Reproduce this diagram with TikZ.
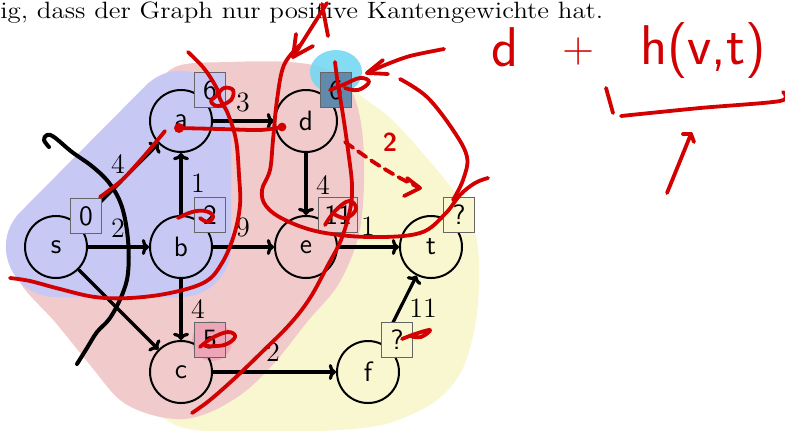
\documentclass[tikz,border=0pt]{standalone}
\usepackage{graphicx}
\usetikzlibrary{calc,arrows.meta}
\definecolor{bluereg}{RGB}{200,200,245}
\definecolor{pinkreg}{RGB}{241,202,204}
\definecolor{yelreg}{RGB}{249,247,208}
\definecolor{annred}{RGB}{210,0,0}
\definecolor{hlcyan}{RGB}{110,215,242}
\definecolor{hlpink}{RGB}{236,150,175}
\definecolor{slate}{RGB}{98,138,172}
\begin{document}
\begin{tikzpicture}[x=0.5pt,y=-0.5pt,
  vtx/.style={circle, draw, line width=1pt, minimum size=31pt, inner sep=0pt, font=\sffamily\fontsize{14}{16}\selectfont},
  dbox/.style={draw=black!60, line width=0.6pt, minimum width=15.5pt, minimum height=17.5pt, inner sep=1pt, font=\sffamily\fontsize{14}{16}\selectfont},
  edge/.style={-{To[length=3.6pt,width=8pt]}, line width=1.6pt},
  wlab/.style={font=\fontsize{14}{16}\selectfont, inner sep=0pt},
  ann/.style={draw=annred, line width=1.9pt, line cap=round, line join=round},
]
\path[use as bounding box, fill=white] (0,0) rectangle (785,430);
\clip (0,0) rectangle (785,430);

% vertex positions
\coordinate (S) at (56,247);
\coordinate (A) at (181,121);
\coordinate (B) at (181,247);
\coordinate (C) at (181,372);
\coordinate (D) at (306,121);
\coordinate (E) at (306,247);
\coordinate (T) at (431,247);
\coordinate (F) at (368,372);

% header
\node[anchor=base west, font=\fontsize{11.8}{13}\selectfont, inner sep=0pt] (hdr) at (0,18) {\scalebox{1.14}[1]{ig, dass der Graph nur positive Kantengewichte hat.}};

% regions
\fill[yelreg] plot[smooth cycle, tension=0.6] coordinates {(330,70) (360,95) (390,118) (420,150) (453,190) (472,222) (479,262) (476,320) (462,370) (437,400) (403,418) (370,427) (300,432) (220,432) (170,422) (140,380) (150,250) (200,120) (260,75)};
\fill[pinkreg] plot[smooth cycle, tension=0.55] coordinates {(20,250) (40,210) (90,160) (145,100) (175,67) (230,62) (290,62) (330,70) (352,92) (362,130) (364,185) (358,238) (338,285) (307,322) (277,360) (247,390) (215,410) (185,419) (152,415) (120,400) (90,365) (55,322) (20,282)};
\node[wlab] (l5) at (118,290) {5};
\fill[bluereg] (S) -- (A) -- (B) -- cycle;
\draw[bluereg, line width=50pt, line join=round] (S) -- (A) -- (B) -- cycle;

% highlights
\fill[hlcyan, opacity=0.85] (336,72) ellipse [x radius=13pt, y radius=11pt];
\fill[hlpink, opacity=0.55] (212,341) circle [radius=10pt];

% vertices
\node[vtx] (s) at (S) {s};
\node[vtx] (a) at (A) {a};
\node[vtx] (b) at (B) {b};
\node[vtx] (c) at (C) {c};
\node[vtx] (d) at (D) {d};
\node[vtx] (e) at (E) {e};
\node[vtx] (t) at (T) {t};
\node[vtx] (f) at (F) {f};

% edges
\draw[edge] (s) -- (a);
\draw[edge] (s) -- (b);
\draw[edge] (s) -- (c);
\draw[edge] (b) -- (a);
\draw[edge] (a) -- (d);
\draw[edge] (b) -- (e);
\draw[edge] (b) -- (c);
\draw[edge] (d) -- (e);
\draw[edge] (e) -- (t);
\draw[edge] (c) -- (f);
\draw[edge] (f) -- (t);

% edge labels
\node[wlab] (l4) at (118,164) {4};
\node[wlab] (l2) at (118,228) {2};
\node[wlab] (l1) at (198,183) {1};
\node[wlab] (l3) at (243,102) {3};
\node[wlab] (l9) at (243,227) {9};
\node[wlab] (l4b) at (323,185) {4};
\node[wlab] (l1b) at (368,226) {1};
\node[wlab] (l4c) at (198,309) {4};
\node[wlab] (l2b) at (273,352) {2};
\node[wlab] (l11) at (423,308) {11};

% distance boxes
\node[dbox, fill=bluereg] (ds) at (86,216) {0};
\node[dbox, fill=bluereg] (da) at (210,90) {6};
\node[dbox, fill=bluereg] (db) at (210,215) {2};
\node[dbox, fill=hlpink!70!pinkreg] (dc) at (210,340) {5};
\node[dbox, fill=slate] (dd) at (336,90) {6};
\node[dbox, fill=pinkreg, minimum width=19.5pt] (de) at (338,215) {11};
\node[dbox, fill=yelreg] (dt) at (459,215) {?};
\node[dbox, fill=yelreg] (df) at (397,340) {?};

% black hand-drawn cut
\draw[line width=2pt, line cap=round, line join=round] plot[smooth, tension=0.6] coordinates {(49,147) (44,140) (47,135) (54,137) (72,152) (93,167) (110,184) (122,207) (128,240) (128,273) (122,295) (110,318) (97,332) (87,348) (77,364)};

% red annotations
\draw[ann] plot[smooth, tension=0.6] coordinates {(188,52) (202,66) (212,80) (218,93) (211,101) (218,106) (231,100) (233,90) (224,88) (219,96) (228,114) (236,140) (239,175) (240,205) (234,235) (222,263) (205,282) (170,293) (130,298) (95,297) (60,289) (30,281) (10,278)};
\draw[ann] plot[smooth] coordinates {(100,197) (122,180) (145,155) (165,131)};
\draw[ann] plot[smooth] coordinates {(178,128) (220,129) (260,130) (282,127)};
\fill[annred] (179,128) circle [radius=2.5pt];
\fill[annred] (282,127) circle [radius=2.2pt];
\draw[ann] plot[smooth, tension=0.6] coordinates {(300,45) (284,65) (277,100) (273,140) (270,170) (262,190) (266,206) (285,220) (320,232) (370,237) (420,233) (445,214) (460,195) (475,183) (488,178)};
\draw[ann] (293,57) -- (327,3);
\draw[ann] (293,57) -- (296,34);
\draw[ann] (293,57) -- (313,46);
\draw[ann] (322,4) -- (328,36);
\draw[ann] plot[smooth, tension=0.6] coordinates {(400,79) (427,97) (453,130) (467,157) (463,180) (453,200)};
\draw[ann] plot[smooth] coordinates {(444,49) (410,56) (385,65) (367,73)};
\draw[ann] (367,73) -- (383,60);
\draw[ann] (367,73) -- (388,74);
\draw[ann] plot[smooth, tension=0.7] coordinates {(330,90) (345,84) (360,78) (369,82) (358,90) (345,88)};
\draw[ann] plot[smooth, tension=0.6] coordinates {(335,62) (338,85) (343,115) (348,150) (352,185) (350,210) (341,240) (328,265) (310,298) (290,324) (262,352) (235,378) (210,400) (192,413)};
\draw[ann] plot[smooth, tension=0.7] coordinates {(325,225) (335,211) (349,201) (356,209) (346,218) (334,214)};
\node[text=annred, font=\sffamily\bfseries\fontsize{13}{15}\selectfont, inner sep=0pt] (two) at (390,142) {2};
\draw[ann, dash pattern=on 5pt off 3pt] plot[smooth] coordinates {(345,142) (375,163) (400,178) (420,188)};
\draw[ann] (420,188) -- (404,196);
\draw[ann] (420,188) -- (407,178);
\draw[ann] plot[smooth, tension=0.7] coordinates {(178,218) (192,212) (205,211) (213,216) (208,222) (200,218)};
\draw[ann] plot[smooth, tension=0.7] coordinates {(200,347) (212,338) (228,332) (235,337) (224,345) (205,346)};
\draw[ann] plot[smooth, tension=0.7] coordinates {(402,339) (415,334) (430,330) (421,337) (410,336)};

% formula annotation
\node[text=annred, font=\sffamily\fontsize{28}{30}\selectfont, inner sep=0pt, anchor=base] (fd) at (505,66) {d};
\node[text=annred, font=\sffamily\fontsize{22}{24}\selectfont, inner sep=0pt] (fp) at (579,52) {+};
\node[text=annred, font=\sffamily\fontsize{28}{30}\selectfont, inner sep=0pt, anchor=base] (fh) at (703,64) {h(v,t)};
\draw[ann] (606,88) -- (613,113);
\draw[ann] plot[smooth] coordinates {(621,116) (700,108) (780,101) (783,92)};
\draw[ann] (667,193) -- (691,134);
\draw[ann] (691,134) -- (683,134);
\draw[ann] (691,134) -- (694,142);
\end{tikzpicture}
\end{document}
